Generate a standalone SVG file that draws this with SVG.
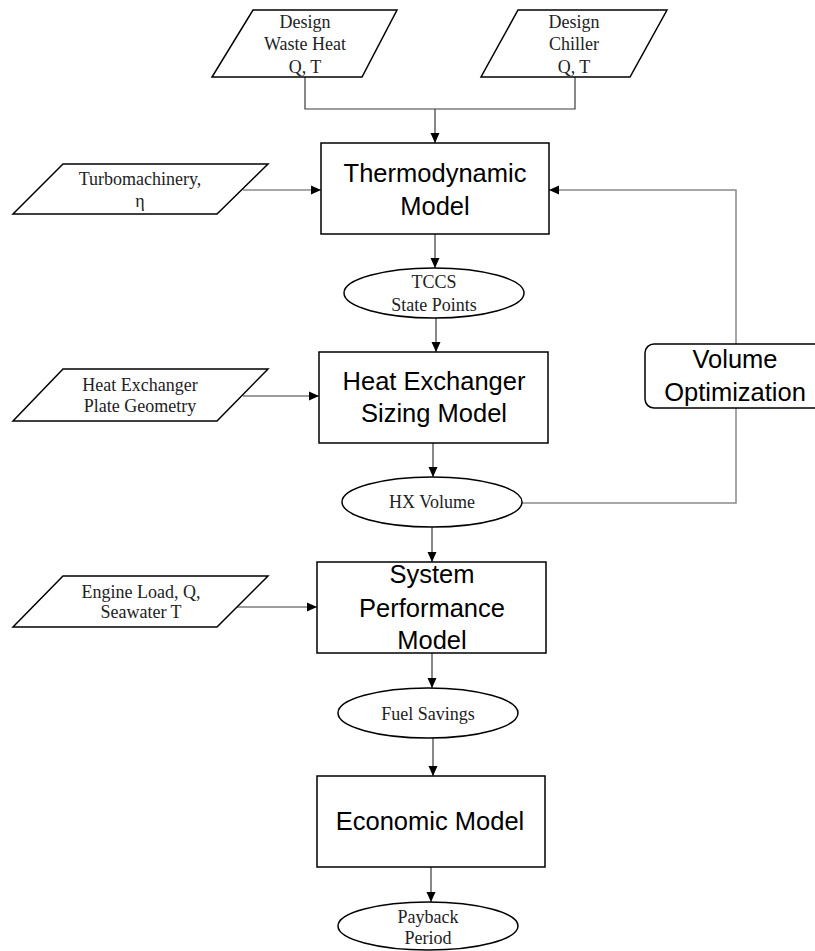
<svg xmlns="http://www.w3.org/2000/svg" width="815" height="951" viewBox="0 0 815 951">
<defs>
<marker id="arr" markerUnits="userSpaceOnUse" markerWidth="10" markerHeight="10" viewBox="0 0 10 10" refX="10" refY="5" orient="auto">
<path d="M0,0.5 L10,5 L0,9.5 Z" fill="#000"/>
</marker>
<style>
.shape{fill:#fff;stroke:#000;stroke-width:1.5}
.ser{font-family:"Liberation Serif","Times New Roman",serif;font-size:18px;fill:#222;text-anchor:middle}
.san{font-family:"Liberation Sans",Arial,sans-serif;font-size:25.5px;fill:#000;text-anchor:middle}
.ln{fill:none;stroke:#3a3a3a;stroke-width:1.2}
.lg{fill:none;stroke:#8a8a8a;stroke-width:1.5}
</style>
</defs>
<rect width="815" height="951" fill="#fff"/>

<g id="connectors">
<path class="ln" d="M305,77 V109 H575 V77"/>
<path class="ln" d="M435,109 V143" marker-end="url(#arr)"/>
<path class="lg" d="M243,190 H321" marker-end="url(#arr)"/>
<path class="lg" d="M736,344 V190 H549" marker-end="url(#arr)"/>
<path class="ln" d="M435,234 V268" marker-end="url(#arr)"/>
<path class="ln" d="M436,318 V352" marker-end="url(#arr)"/>
<path class="ln" d="M243,396 H319" marker-end="url(#arr)"/>
<path class="lg" d="M736,408 V503 H522"/>
<path class="ln" d="M433,443 V477" marker-end="url(#arr)"/>
<path class="ln" d="M432,527 V562" marker-end="url(#arr)"/>
<path class="ln" d="M237,607 H317" marker-end="url(#arr)"/>
<path class="ln" d="M432,653 V688" marker-end="url(#arr)"/>
<path class="ln" d="M433,738 V776" marker-end="url(#arr)"/>
<path class="ln" d="M431,867 V902" marker-end="url(#arr)"/>
</g>

<g id="design-waste-heat">
<polygon class="shape" points="253,10 397,10 362,77 212,77"/>
<text class="ser" x="305" y="28">Design</text>
<text class="ser" x="305" y="50">Waste Heat</text>
<text class="ser" x="305" y="73">Q, T</text>
</g>

<g id="design-chiller">
<polygon class="shape" points="518,10 667,10 630,77 481,77"/>
<text class="ser" x="574" y="28">Design</text>
<text class="ser" x="574" y="50">Chiller</text>
<text class="ser" x="574" y="73">Q, T</text>
</g>

<g id="thermodynamic-model">
<rect class="shape" x="321" y="143" width="228" height="91"/>
<text class="san" x="435" y="182">Thermodynamic</text>
<text class="san" x="435" y="215">Model</text>
</g>

<g id="turbomachinery">
<polygon class="shape" points="63,164 268,164 217,214 13,214"/>
<text class="ser" x="140" y="185">Turbomachinery,</text>
<text class="ser" x="140" y="207">η</text>
</g>

<g id="tccs-state-points">
<ellipse class="shape" cx="434" cy="293" rx="90" ry="25"/>
<text class="ser" x="434" y="288">TCCS</text>
<text class="ser" x="434" y="311">State Points</text>
</g>

<g id="hx-sizing-model">
<rect class="shape" x="319" y="352" width="229" height="91"/>
<text class="san" x="434" y="390">Heat Exchanger</text>
<text class="san" x="434" y="422">Sizing Model</text>
</g>

<g id="hx-plate-geometry">
<polygon class="shape" points="63,369 268,369 217,421 13,421"/>
<text class="ser" x="140" y="391">Heat Exchanger</text>
<text class="ser" x="140" y="412">Plate Geometry</text>
</g>

<g id="volume-optimization">
<rect class="shape" x="645" y="344" width="185" height="64" rx="9"/>
<text class="san" x="735" y="368">Volume</text>
<text class="san" x="735" y="401">Optimization</text>
</g>

<g id="hx-volume">
<ellipse class="shape" cx="432" cy="502" rx="90" ry="25"/>
<text class="ser" x="432" y="508">HX Volume</text>
</g>

<g id="system-performance-model">
<rect class="shape" x="317" y="562" width="229" height="91"/>
<text class="san" x="432" y="583">System</text>
<text class="san" x="432" y="617">Performance</text>
<text class="san" x="432" y="649">Model</text>
</g>

<g id="engine-load">
<polygon class="shape" points="63,576 268,576 217,627 13,627"/>
<text class="ser" x="141" y="598">Engine Load, Q,</text>
<text class="ser" x="141" y="618">Seawater T</text>
</g>

<g id="fuel-savings">
<ellipse class="shape" cx="428" cy="713" rx="90" ry="25"/>
<text class="ser" x="428" y="720">Fuel Savings</text>
</g>

<g id="economic-model">
<rect class="shape" x="317" y="776" width="228" height="91"/>
<text class="san" x="430" y="830">Economic Model</text>
</g>

<g id="payback-period">
<ellipse class="shape" cx="428" cy="926" rx="90" ry="24"/>
<text class="ser" x="428" y="923">Payback</text>
<text class="ser" x="428" y="944">Period</text>
</g>
</svg>
